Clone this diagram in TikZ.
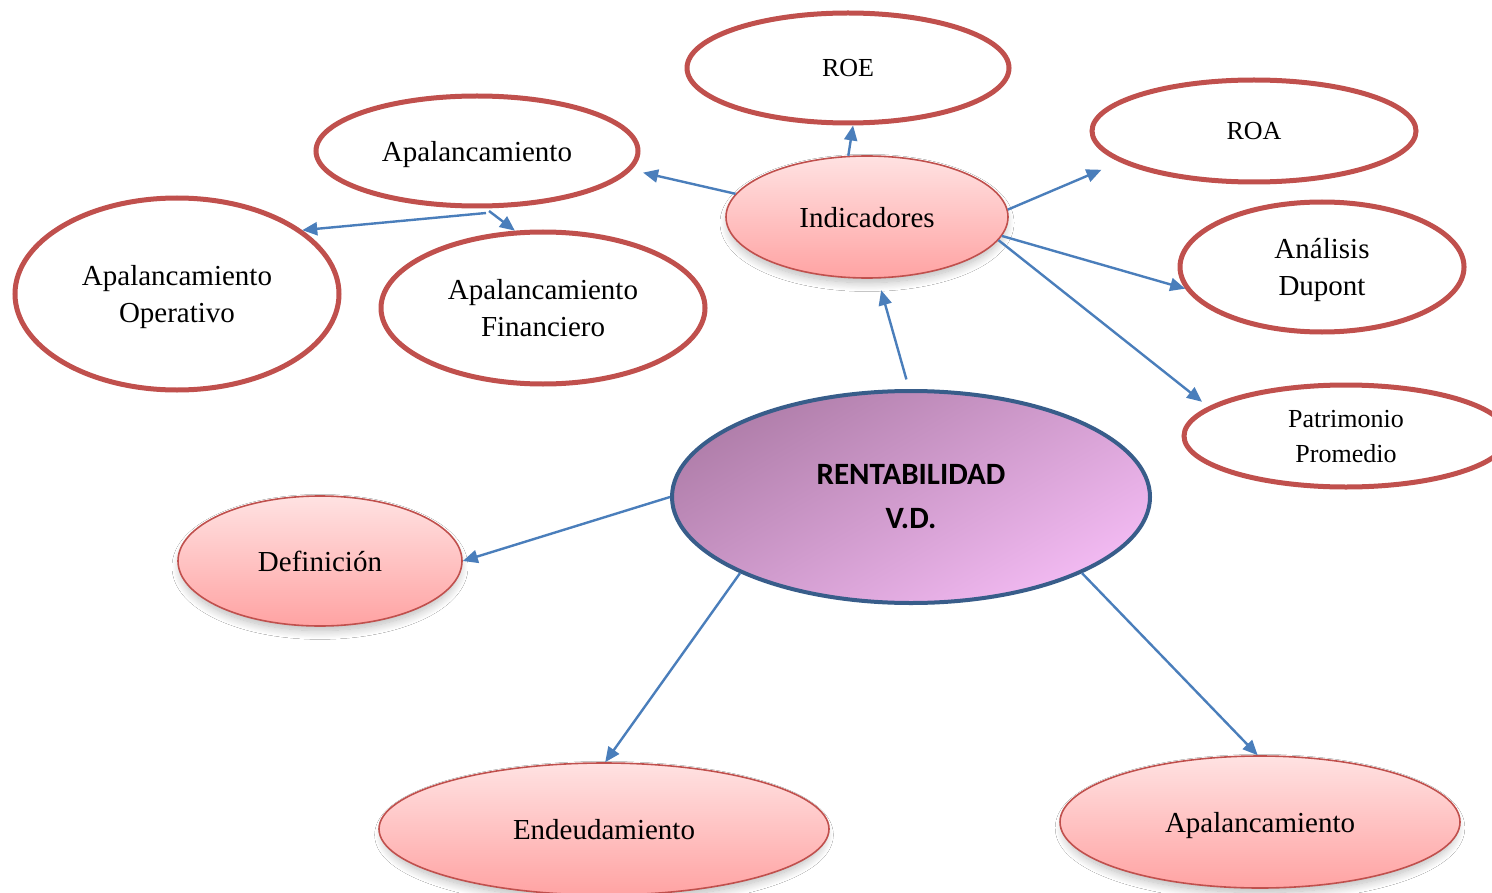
\documentclass[tikz,border=0pt]{standalone}
\usepackage{fontspec}
\setmainfont{Liberation Serif}
\newfontfamily\carlito{Carlito}
\usetikzlibrary{shapes.geometric,arrows.meta,shadows.blur}

\definecolor{redline}{HTML}{C0504D}
\definecolor{arrowblue}{HTML}{4A7EBB}
\definecolor{rvline}{HTML}{385D8A}
\definecolor{pinktop}{HTML}{FFE2E2}
\definecolor{pinkbot}{HTML}{FFA3A3}
\definecolor{rvdark}{HTML}{B07EAA}
\definecolor{rvlight}{HTML}{F2BAF2}

\newcommand{\mainsz}{\fontsize{14.5pt}{18.5pt}\selectfont}
\newcommand{\smallsz}{\fontsize{13pt}{17.5pt}\selectfont}

\tikzset{
  wnode/.style={ellipse, draw=redline, line width=2.5pt, fill=white,
    inner sep=0pt, align=center, font=\mainsz, text depth=0pt},
  pnode/.style={ellipse, draw=redline, line width=0.8pt,
    top color=pinktop, bottom color=pinkbot,
    inner sep=0pt, align=center, font=\mainsz, text depth=0pt,
    blur shadow={shadow xshift=0pt, shadow yshift=-3pt, shadow scale=0.98,
      shadow blur radius=4.5pt, shadow blur steps=12, shadow opacity=28}},
  conn/.style={draw=arrowblue, line width=1.2pt,
    -{Triangle[length=7.5pt,width=6.5pt]}},
}

\begin{document}
\begin{tikzpicture}[x=0.5pt,y=-0.5pt]
  \clip (0,0) rectangle (1492,893);
  \fill[white] (0,0) rectangle (1492,893);

  % central concept
  \node[ellipse, draw=rvline, line width=2pt,
        top color=rvdark, bottom color=rvlight, shading angle=30,
        inner sep=0pt, align=center,
        minimum width=239pt, minimum height=106pt,
        font=\carlito\bfseries\fontsize{15.5pt}{22pt}\selectfont]
        (rv) at (911,497) {RENTABILIDAD\\V.D.};

  % first level
  \node[pnode, minimum width=141pt, minimum height=61pt] (ind) at (867,217) {Indicadores};
  \node[pnode, minimum width=142pt, minimum height=65pt] (def) at (320,561) {Definición};
  \node[pnode, minimum width=225pt, minimum height=66pt] (end) at (604,829) {Endeudamiento};
  \node[pnode, minimum width=200pt, minimum height=66pt] (apb) at (1260,822) {Apalancamiento};

  % indicators
  \node[wnode, font=\smallsz, minimum width=161pt, minimum height=55pt] (roe) at (848,68) {ROE};
  \node[wnode, font=\smallsz, minimum width=162pt, minimum height=51pt] (roa) at (1254,131) {ROA};
  \node[wnode, minimum width=161pt, minimum height=55pt] (apt) at (477,151) {Apalancamiento};
  \node[wnode, minimum width=142pt, minimum height=65pt] (dup) at (1322,267) {Análisis\\Dupont};
  \node[wnode, font=\smallsz, minimum width=162pt, minimum height=51pt] (pat) at (1346,436) {Patrimonio\\Promedio};

  % leverage types
  \node[wnode, minimum width=162pt, minimum height=96pt] (apo) at (177,294) {Apalancamiento\\Operativo};
  \node[wnode, minimum width=162pt, minimum height=76pt] (apf) at (543,308) {Apalancamiento\\Financiero};

  % branching points below the upper leverage node
  \coordinate (forko) at (486,213);
  \coordinate (forkf) at (489,211);

  % connectors
  \draw[conn, shorten <=5pt, shorten >=6pt] (rv.91) -- (ind.-80);
  \draw[conn] (ind.107) -- (roe.-85);
  \draw[conn, shorten >=6pt] (ind.170) -- (apt.-7);
  \draw[conn, shorten >=10pt] (ind.3) -- (roa.-167);
  \draw[conn] (ind.-8) -- (dup.-171);
  \draw[conn, shorten >=4pt] (ind.-10) -- (pat.168);
  \draw[conn] (forko) -- (apo.27);
  \draw[conn] (forkf) -- (apf.110);
  \draw[conn] (rv.180) -- (def.0);
  \draw[conn] (rv.204) -- (end.89);
  \draw[conn] (rv.-24) -- (apb.92);
\end{tikzpicture}
\end{document}
